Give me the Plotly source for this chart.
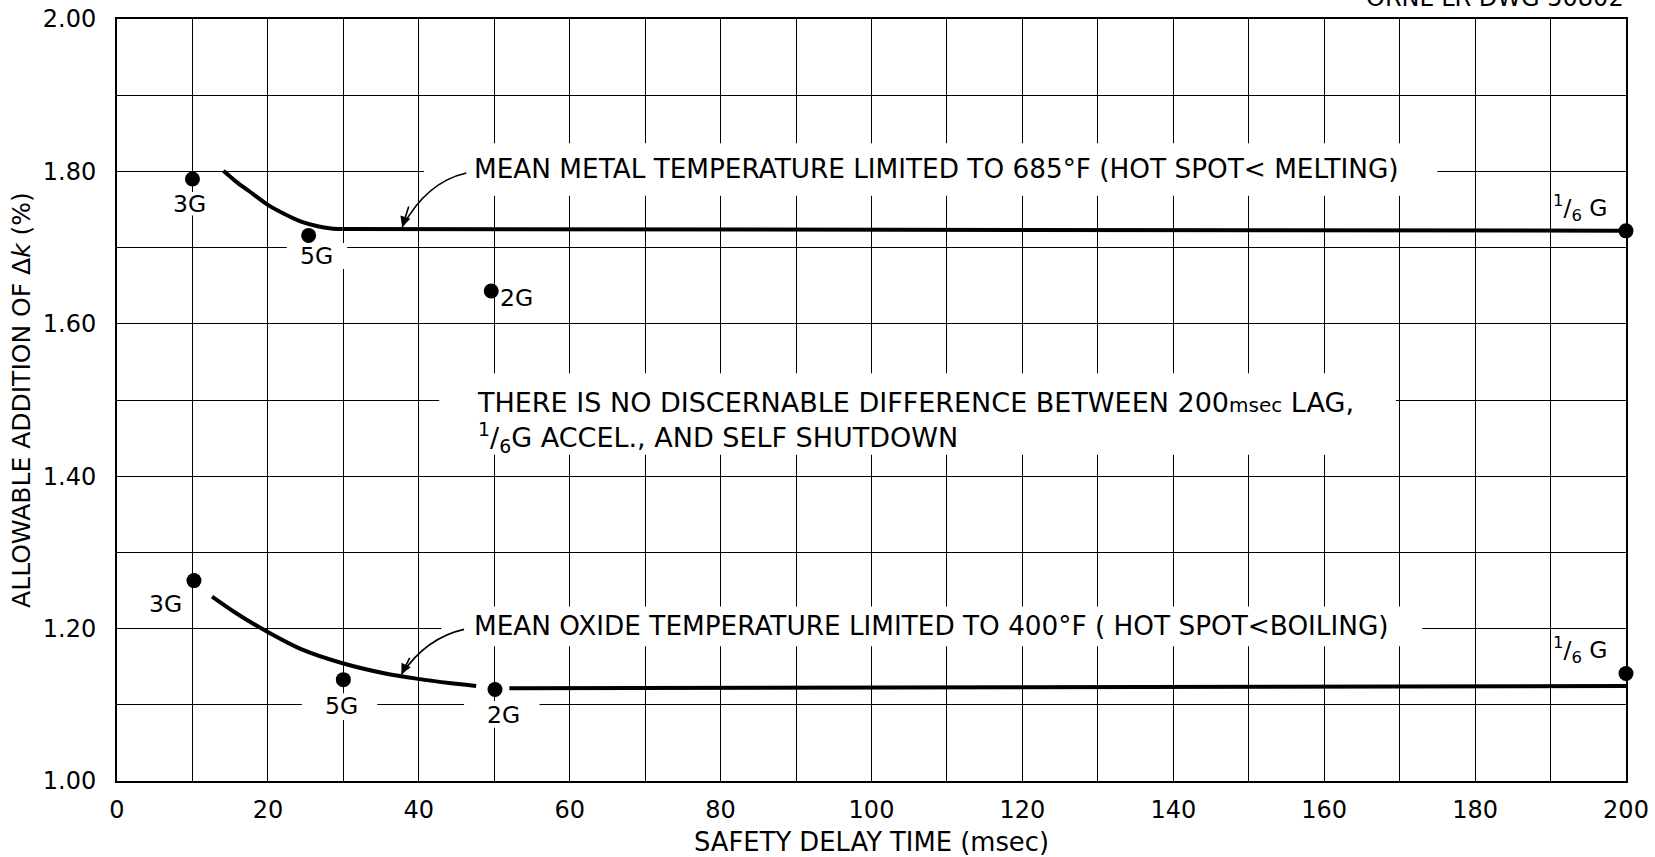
import plotly.graph_objects as go

# ---- data ----
metal_curve_x = [14.1, 16.0, 17.8, 20.0, 22.2, 24.4, 26.6, 28.4, 29.9]
metal_curve_y = [1.801, 1.785, 1.772, 1.756, 1.744, 1.734, 1.728, 1.7252, 1.7244]
metal_flat_x = [29.9, 200.0]
metal_flat_y = [1.7244, 1.7222]

oxide_curve_x = [12.6, 15.6, 19.1, 24.4, 29.9, 35.4, 39.9, 44.3, 47.6]
oxide_curve_y = [1.2420, 1.2215, 1.2004, 1.1730, 1.1545, 1.1414, 1.1340, 1.1283, 1.1247]
oxide_flat_x = [52.0, 200.0]
oxide_flat_y = [1.1216, 1.1247]

metal_pts_x = [10.0, 25.4, 49.6, 200.0]
metal_pts_y = [1.790, 1.716, 1.643, 1.722]
oxide_pts_x = [10.2, 30.0, 50.1, 200.0]
oxide_pts_y = [1.263, 1.133, 1.120, 1.141]
pt_labels = ["3G", "5G", "2G", "<sup>1</sup>/<sub>6</sub> G"]

x_tick_vals = [0, 20, 40, 60, 80, 100, 120, 140, 160, 180, 200]
y_tick_vals = [1.00, 1.20, 1.40, 1.60, 1.80, 2.00]
y_tick_text = ["1.00", "1.20", "1.40", "1.60", "1.80", "2.00"]

FONT = "DejaVu Sans"
fig = go.Figure()

for xs, ys in [(metal_curve_x, metal_curve_y), (oxide_curve_x, oxide_curve_y)]:
    fig.add_trace(go.Scatter(x=xs, y=ys, mode="lines",
                             line=dict(color="black", width=4, shape="spline", smoothing=0.8),
                             cliponaxis=False, hoverinfo="skip"))
for xs, ys in [(metal_flat_x, metal_flat_y), (oxide_flat_x, oxide_flat_y)]:
    fig.add_trace(go.Scatter(x=xs, y=ys, mode="lines",
                             line=dict(color="black", width=4),
                             cliponaxis=False, hoverinfo="skip"))
for xs, ys in [(metal_pts_x, metal_pts_y), (oxide_pts_x, oxide_pts_y)]:
    fig.add_trace(go.Scatter(x=xs, y=ys, mode="markers",
                             marker=dict(color="black", size=15),
                             cliponaxis=False))

# white boxes that interrupt the grid behind the lettering
gap_boxes = [
    (40.7, 175.0, 1.768, 1.837),   # metal note
    (42.7, 169.5, 1.428, 1.535),   # middle note
    (43.0, 173.0, 1.177, 1.229),   # oxide note
    (6.5, 13.0, 1.742, 1.773),     # 3G metal
    (22.5, 30.5, 1.672, 1.706),    # 5G metal
    (50.5, 56.5, 1.618, 1.652),    # 2G metal
    (3.0, 9.5, 1.215, 1.250),      # 3G oxide
    (24.5, 34.5, 1.080, 1.115),    # 5G oxide
    (46.0, 56.0, 1.070, 1.105),    # 2G oxide
]
shapes = []
for x0, x1, y0, y1 in gap_boxes:
    shapes.append(dict(type="rect", xref="x", yref="y", x0=x0, x1=x1, y0=y0, y1=y1,
                       fillcolor="white", line=dict(width=0), layer="between"))
# curved leader lines
shapes.append(dict(type="path", xref="x", yref="y",
                   path="M 46.3,1.798 Q 41,1.786 37.8,1.727",
                   line=dict(color="black", width=1.6), layer="above"))
shapes.append(dict(type="path", xref="x", yref="y",
                   path="M 46.0,1.199 Q 41,1.188 37.7,1.140",
                   line=dict(color="black", width=1.6), layer="above"))

ann = []
# arrow heads
ann.append(dict(x=37.8, y=1.727, xref="x", yref="y", ax=7, ay=-22, text="",
                showarrow=True, arrowhead=2, arrowsize=1.3, arrowwidth=1.6, arrowcolor="black"))
ann.append(dict(x=37.7, y=1.140, xref="x", yref="y", ax=9, ay=-18, text="",
                showarrow=True, arrowhead=2, arrowsize=1.3, arrowwidth=1.6, arrowcolor="black"))

NOTE = 26.3
ann.append(dict(x=47.0, y=1.803, xref="x", yref="y", xanchor="left", yanchor="middle",
                text="MEAN METAL TEMPERATURE LIMITED TO 685°F (HOT SPOT&lt; MELTING)",
                showarrow=False, font=dict(family=FONT, size=NOTE, color="black")))
ann.append(dict(x=47.0, y=1.2036, xref="x", yref="y", xanchor="left", yanchor="middle",
                text="MEAN OXIDE TEMPERATURE LIMITED TO 400°F ( HOT SPOT&lt;BOILING)",
                showarrow=False, font=dict(family=FONT, size=NOTE, color="black")))
ann.append(dict(x=47.4, y=1.471, xref="x", yref="y", xanchor="left", yanchor="middle", align="left",
                text=("THERE IS NO DISCERNABLE DIFFERENCE BETWEEN 200<span style='font-size:20px'>msec</span> LAG,"
                      "<br><sup>1</sup>/<sub>6</sub>G ACCEL., AND SELF SHUTDOWN"),
                showarrow=False, font=dict(family=FONT, size=27, color="black")))

# point labels
metal_lbl_pos = [(9.65, 1.7576), (26.4, 1.6884), (52.9, 1.634), (194.0, 1.752)]
oxide_lbl_pos = [(6.4, 1.2327), (29.8, 1.0983), (51.2, 1.087), (194.0, 1.172)]
for (lx, ly), t in zip(metal_lbl_pos + oxide_lbl_pos, pt_labels + pt_labels):
    ann.append(dict(x=lx, y=ly, xref="x", yref="y", text=t, showarrow=False,
                    font=dict(family=FONT, size=23.5, color="black")))

# drawing number, cut off by the top edge as in the reference
ann.append(dict(x=1.0, y=1.0066, xref="paper", yref="paper", xanchor="right", yanchor="bottom",
                text="ORNL-LR-DWG 50802", showarrow=False,
                font=dict(family=FONT, size=24, color="black")))

fig.update_layout(
    width=1655, height=857,
    margin=dict(l=117, r=29, t=19, b=76),
    plot_bgcolor="white", paper_bgcolor="white",
    showlegend=False,
    font=dict(family=FONT, color="black"),
    shapes=shapes, annotations=ann,
)
fig.update_xaxes(
    range=[0, 200], tickmode="array", tickvals=x_tick_vals, automargin=False,
    ticklabeloverflow="allow",
    showgrid=True, gridcolor="black", gridwidth=1.1,
    minor=dict(tickmode="linear", tick0=0, dtick=10, showgrid=True, gridcolor="black", gridwidth=1.1),
    showline=True, linecolor="black", linewidth=2, mirror=True, zeroline=False,
    ticks="", ticklabelstandoff=6,
    tickfont=dict(family=FONT, size=24, color="black"),
    title=dict(text="SAFETY DELAY TIME (msec)", font=dict(family=FONT, size=25.8, color="black"), standoff=30),
)
fig.update_yaxes(
    range=[1.0, 2.0], tickmode="array", tickvals=y_tick_vals, ticktext=y_tick_text, automargin=False,
    ticklabeloverflow="allow",
    showgrid=True, gridcolor="black", gridwidth=1.1,
    minor=dict(tickmode="linear", tick0=1.0, dtick=0.1, showgrid=True, gridcolor="black", gridwidth=1.1),
    showline=True, linecolor="black", linewidth=2, mirror=True, zeroline=False,
    ticks="", ticklabelstandoff=14,
    tickfont=dict(family=FONT, size=24, color="black"),
    title=dict(text="ALLOWABLE ADDITION OF Δ<i>k</i> (%)", font=dict(family=FONT, size=25, color="black"), standoff=5),
)

# remove the browser's default 8 px body margin so the figure fills the window exactly
fig.write_html("out.html",
               config={"displayModeBar": False},
               post_script="document.body.style.margin='0';document.documentElement.style.overflow='hidden';")
